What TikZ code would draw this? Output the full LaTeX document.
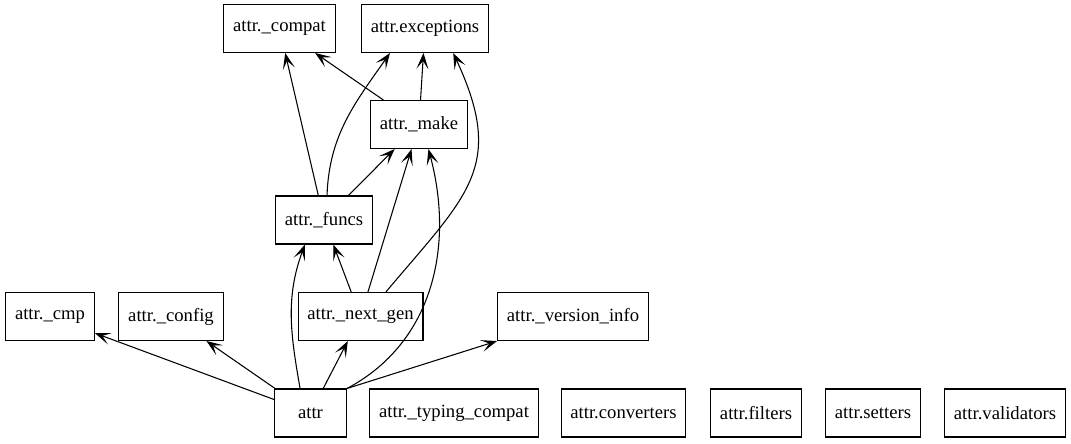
\documentclass[tikz,border=0pt]{standalone}
\usepackage{fontspec}
\setmainfont{Liberation Serif}
\usetikzlibrary{arrows.meta}

\begin{document}
\begin{tikzpicture}[x=0.75pt,y=0.75pt, every node/.style={draw,line width=0.8pt,minimum width=54pt,minimum height=36pt,inner xsep=7pt,font=\fontsize{14}{16}\selectfont}, dep/.style={-{Stealth[length=12pt,width=9pt,inset=6pt]},line width=0.8pt}]
\useasboundingbox (0,0) rectangle (1071,-443);
\node (compat) at (279.5,-28.5) {attr.\_compat}; \node (exc) at (425,-28.5) {attr.exceptions};
\node (make) at (419,-124.5) {attr.\_make};
\node (funcs) at (324,-220) {attr.\_funcs};
\node (cmp) at (50,-316.5) {attr.\_cmp}; \node (config) at (171,-316.5) {attr.\_config}; \node (nextgen) at (360.5,-316.5) {attr.\_next\_gen}; \node (version) at (573,-316.5) {attr.\_version\_info};
\node (attr) at (310.5,-413) {attr}; \node (typing) at (454,-413) {attr.\_typing\_compat}; \node (conv) at (623.5,-413) {attr.converters};
\node (filters) at (756,-413) {attr.filters}; \node (setters) at (873,-413) {attr.setters}; \node (valid) at (1005,-413) {attr.validators};
\draw[dep] (attr) -- (cmp); \draw[dep] (attr) -- (config); \draw[dep] (attr) -- (nextgen);
\draw[dep] (attr.north east) -- (version.south west);
\draw[dep] (attr.113) to[out=100,in=-110] (funcs.232);
\draw[dep] (attr.north east) to[out=28,in=-75] (make.291);
\draw[dep] (nextgen) -- (funcs); \draw[dep] (nextgen) -- (make);
\draw[dep] (nextgen.44) to[out=50,in=-65,looseness=1.3] (exc.319);
\draw[dep] (funcs) -- (make); \draw[dep] (funcs) -- (compat);
\draw[dep] (funcs.83) to[out=88,in=-125] (exc.215);
\draw[dep] (make) -- (compat); \draw[dep] (make) -- (exc);
\end{tikzpicture}
\end{document}
